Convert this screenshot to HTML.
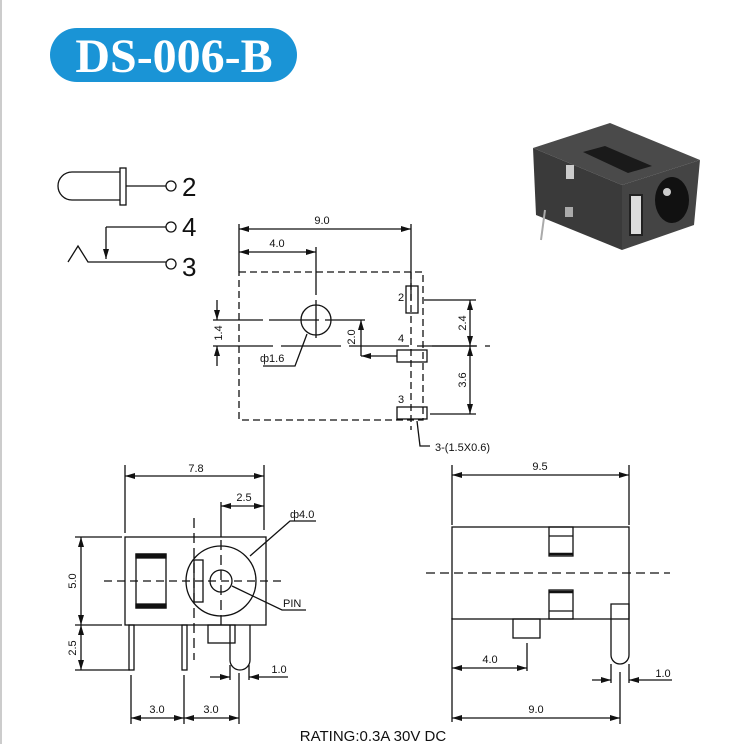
<!DOCTYPE html>
<html><head><style>
body{margin:0;background:#fff;width:735px;height:744px;overflow:hidden}
svg{display:block}
text{font-family:"Liberation Sans",sans-serif;fill:#111}
</style></head><body>
<svg width="735" height="744" viewBox="0 0 735 744" xmlns="http://www.w3.org/2000/svg">
<defs>
<marker id="a" viewBox="0 0 10 6" refX="10" refY="3" markerWidth="10" markerHeight="6" orient="auto-start-reverse" markerUnits="userSpaceOnUse"><path d="M0,0L10,3L0,6z" fill="#111"/></marker>
</defs>
<line x1="1" y1="0" x2="1" y2="744" stroke="#bbb" stroke-width="1.5"/>
<rect x="50" y="28" width="247" height="54" rx="27" fill="#1a94d6"/>
<text x="174" y="72" text-anchor="middle" style="font-family:'Liberation Serif',serif;font-weight:bold;font-size:48px;fill:#fff">DS-006-B</text>

<g stroke="#111" stroke-width="1.3" fill="none">
<path d="M120,172H72a14,14 0 0 0 0,28H120"/>
<rect x="120" y="168" width="6" height="37"/>
<line x1="126" y1="186" x2="166" y2="186"/><circle cx="171" cy="186" r="5"/>
<line x1="106" y1="227" x2="166" y2="227"/><circle cx="171" cy="227" r="5"/>
<line x1="106" y1="227" x2="106" y2="259" marker-end="url(#a)"/>
<path d="M68,262L78,246L88,262H166"/><circle cx="171" cy="264" r="5"/>

<rect x="239" y="272" width="184" height="148" stroke-dasharray="7,4"/>
<line x1="239" y1="224" x2="239" y2="272"/><line x1="411" y1="224" x2="411" y2="300"/>
<line x1="239" y1="229" x2="411" y2="229" marker-start="url(#a)" marker-end="url(#a)"/>
<line x1="316" y1="247" x2="316" y2="295"/>
<line x1="239" y1="252" x2="316" y2="252" marker-start="url(#a)" marker-end="url(#a)"/>
<circle cx="316" cy="320" r="15"/><line x1="316" y1="300" x2="316" y2="338"/>
<line x1="213" y1="320" x2="365" y2="320" stroke-dasharray="50,6"/>
<line x1="213" y1="346" x2="490" y2="346" stroke-dasharray="60,8"/>
<line x1="411" y1="272" x2="411" y2="430" stroke-dasharray="7,4"/>
<rect x="406" y="286" width="12" height="27"/>
<rect x="397" y="350" width="30" height="12"/>
<rect x="397" y="407" width="30" height="12"/>
<line x1="424" y1="300" x2="476" y2="300"/><line x1="432" y1="346" x2="476" y2="346"/><line x1="430" y1="414" x2="476" y2="414"/>
<line x1="470" y1="300" x2="470" y2="346" marker-start="url(#a)" marker-end="url(#a)"/>
<line x1="470" y1="346" x2="470" y2="414" marker-start="url(#a)" marker-end="url(#a)"/>
<line x1="217" y1="300" x2="217" y2="320" marker-end="url(#a)"/>
<line x1="217" y1="366" x2="217" y2="346" marker-end="url(#a)"/>
<line x1="361" y1="356" x2="361" y2="320" marker-end="url(#a)"/>
<line x1="397" y1="356" x2="361" y2="356" marker-end="url(#a)"/>
<path d="M307,334L295,366H263"/>
<path d="M417,421L420,446H430"/>

<rect x="125" y="537" width="141" height="88"/>
<rect x="136" y="554" width="30" height="54"/>
<rect x="136" y="554" width="30" height="4" fill="#111"/><rect x="136" y="604" width="30" height="4" fill="#111"/>
<circle cx="221" cy="581" r="35"/><circle cx="221" cy="581" r="11"/>
<rect x="194" y="560" width="9" height="42"/>
<line x1="104" y1="581" x2="285" y2="581" stroke-dasharray="8,5"/>
<line x1="194" y1="518" x2="194" y2="660" stroke-dasharray="10,5"/>
<line x1="221" y1="502" x2="221" y2="537"/>
<line x1="221" y1="540" x2="221" y2="625" stroke-dasharray="10,5"/>
<line x1="125" y1="465" x2="125" y2="533"/><line x1="264" y1="465" x2="264" y2="530"/>
<line x1="125" y1="476" x2="264" y2="476" marker-start="url(#a)" marker-end="url(#a)"/>
<line x1="221" y1="506" x2="264" y2="506" marker-start="url(#a)" marker-end="url(#a)"/>
<path d="M250,556L290,521H316"/>
<path d="M232,586L282,610H306"/>
<rect x="129" y="625" width="5" height="45"/><rect x="182" y="625" width="5" height="45"/>
<rect x="208" y="625" width="27" height="18"/>
<path d="M230,625V660a10,10 0 0 0 20,0V625"/>
<line x1="75" y1="537" x2="122" y2="537"/><line x1="75" y1="625" x2="122" y2="625"/><line x1="75" y1="670" x2="130" y2="670"/>
<line x1="81" y1="537" x2="81" y2="625" marker-start="url(#a)" marker-end="url(#a)"/>
<line x1="81" y1="625" x2="81" y2="670" marker-start="url(#a)" marker-end="url(#a)"/>
<line x1="131" y1="675" x2="131" y2="724"/><line x1="184" y1="675" x2="184" y2="724"/><line x1="239" y1="673" x2="239" y2="724"/>
<line x1="131" y1="718" x2="184" y2="718" marker-start="url(#a)" marker-end="url(#a)"/>
<line x1="184" y1="718" x2="239" y2="718" marker-start="url(#a)" marker-end="url(#a)"/>
<line x1="230" y1="665" x2="230" y2="680"/><line x1="249" y1="665" x2="249" y2="680"/>
<line x1="210" y1="677" x2="230" y2="677" marker-end="url(#a)"/>
<path d="M288,677H249" marker-end="url(#a)"/>

<rect x="452" y="527" width="177" height="92"/>
<rect x="549" y="527" width="24" height="29"/><line x1="549" y1="536" x2="573" y2="536"/><line x1="549" y1="554" x2="573" y2="554" stroke-width="2.5"/>
<rect x="549" y="590" width="24" height="29"/><line x1="549" y1="592" x2="573" y2="592" stroke-width="2.5"/><line x1="549" y1="611" x2="573" y2="611"/>
<line x1="426" y1="573" x2="670" y2="573" stroke-dasharray="9,5"/>
<rect x="513" y="619" width="27" height="19"/>
<path d="M611,604H629V655a9,9 0 0 1 -18,0Z"/>
<line x1="452" y1="465" x2="452" y2="525"/><line x1="629" y1="465" x2="629" y2="525"/>
<line x1="452" y1="475" x2="629" y2="475" marker-start="url(#a)" marker-end="url(#a)"/>
<line x1="527" y1="643" x2="527" y2="671"/><line x1="452" y1="618" x2="452" y2="722"/>
<line x1="452" y1="668" x2="527" y2="668" marker-start="url(#a)" marker-end="url(#a)"/>
<line x1="620" y1="672" x2="620" y2="724"/>
<line x1="452" y1="718" x2="620" y2="718" marker-start="url(#a)" marker-end="url(#a)"/>
<line x1="611" y1="664" x2="611" y2="683"/><line x1="629" y1="664" x2="629" y2="683"/>
<line x1="592" y1="680" x2="611" y2="680" marker-end="url(#a)"/>
<path d="M672,680H629" marker-end="url(#a)"/>
</g>

<g>
<polygon points="533,148 610,123 700,160 622,185" fill="#4a4a4a"/>
<polygon points="533,148 622,185 622,250 536,215" fill="#3a3a3a"/>
<polygon points="622,185 700,160 694,225 622,250" fill="#444"/>
<polygon points="583,152 605,146 652,166 628,173" fill="#1a1a1a"/>
<rect x="630" y="195" width="12" height="40" fill="#ddd" stroke="#222" stroke-width="2"/>
<ellipse cx="672" cy="200" rx="17" ry="23" fill="#111"/>
<circle cx="667" cy="192" r="4" fill="#ccc"/>
<rect x="566" y="165" width="8" height="14" fill="#ccc"/>
<rect x="565" y="207" width="8" height="10" fill="#aaa"/>
<line x1="545" y1="210" x2="541" y2="240" stroke="#aaa" stroke-width="2"/>
</g>

<g font-size="11">
<text x="322" y="224" text-anchor="middle">9.0</text>
<text x="277" y="247" text-anchor="middle">4.0</text>
<text x="401" y="301" text-anchor="middle">2</text>
<text x="401" y="342" text-anchor="middle">4</text>
<text x="401" y="403" text-anchor="middle">3</text>
<text x="260" y="362">ф1.6</text>
<text x="435" y="451">3-(1.5X0.6)</text>
<text transform="translate(222,333) rotate(-90)" text-anchor="middle">1.4</text>
<text transform="translate(355,337) rotate(-90)" text-anchor="middle">2.0</text>
<text transform="translate(466,323) rotate(-90)" text-anchor="middle">2.4</text>
<text transform="translate(466,380) rotate(-90)" text-anchor="middle">3.6</text>
<text x="196" y="472" text-anchor="middle">7.8</text>
<text x="244" y="501" text-anchor="middle">2.5</text>
<text x="290" y="518">ф4.0</text>
<text x="283" y="607">PIN</text>
<text transform="translate(76,581) rotate(-90)" text-anchor="middle">5.0</text>
<text transform="translate(76,648) rotate(-90)" text-anchor="middle">2.5</text>
<text x="157" y="713" text-anchor="middle">3.0</text>
<text x="211" y="713" text-anchor="middle">3.0</text>
<text x="279" y="673" text-anchor="middle">1.0</text>
<text x="540" y="470" text-anchor="middle">9.5</text>
<text x="490" y="663" text-anchor="middle">4.0</text>
<text x="536" y="713" text-anchor="middle">9.0</text>
<text x="663" y="677" text-anchor="middle">1.0</text>
</g>
<g font-size="26">
<text x="182" y="196">2</text><text x="182" y="236">4</text><text x="182" y="276">3</text>
</g>
<text x="373" y="741" text-anchor="middle" font-size="15">RATING:0.3A 30V DC</text>
</svg>
</body></html>
